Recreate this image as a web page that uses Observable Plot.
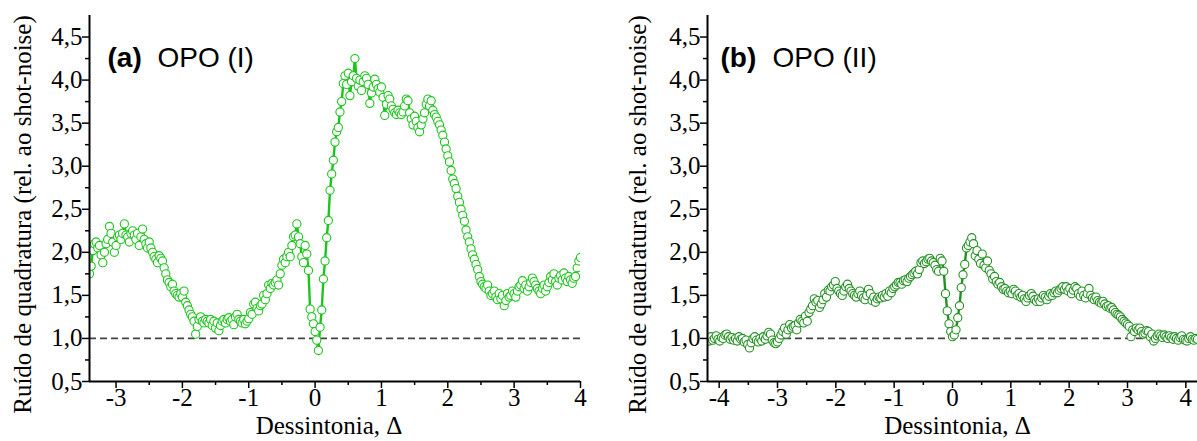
<!DOCTYPE html>
<html><head><meta charset="utf-8">
<script src="https://cdn.jsdelivr.net/npm/d3@7"></script>
<script src="https://cdn.jsdelivr.net/npm/@observablehq/plot@0.6"></script>
<style>
html,body{margin:0;padding:0;background:#fff;}
#row{display:flex;width:1197px;height:441px;overflow:hidden;}
#row svg{max-width:none;flex:none;}
</style></head><body><div id="row"></div>
<script>
// ---- shared labels / ticks ----
const yTitle = "Ruído de quadratura (rel. ao shot-noise)";
const xTitle = "Dessintonia, Δ";
const yDomain = [0.5, 4.75];
const yMajor = [0.5, 1.0, 1.5, 2.0, 2.5, 3.0, 3.5, 4.0, 4.5];
const yMinor = [0.75, 1.25, 1.75, 2.25, 2.75, 3.25, 3.75, 4.25];
const shotNoise = [1.0];

// ---- panel (a) OPO (I) ----
const leftTag = "(a)", leftName = "OPO (I)";
const leftXDomain = [-3.4, 4];
const leftXMajor = [-3, -2, -1, 0, 1, 2, 3, 4];
const leftXMinor = [-2.5, -1.5, -0.5, 0.5, 1.5, 2.5, 3.5];
const leftX0 = -3.4, leftStep = 0.025;   // detuning sweep
const leftY = [
  1.75, 1.84, 2.02, 2.10,
  2.12, 2.05, 2.08, 1.97,
  1.88, 2.00, 2.10, 2.15,
  2.30, 2.22, 2.12, 2.00,
  2.08, 2.18, 2.20, 2.15,
  2.22, 2.33, 2.20, 2.18,
  2.12, 2.22, 2.25, 2.20,
  2.15, 2.22, 2.08, 2.18,
  2.27, 2.15, 2.10, 2.05,
  2.12, 2.05, 2.00, 1.95,
  1.92, 1.88, 1.96, 1.93,
  1.90, 1.82, 1.75, 1.68,
  1.65, 1.60, 1.63, 1.55,
  1.52, 1.50, 1.48, 1.52,
  1.48, 1.55, 1.42, 1.38,
  1.33, 1.28, 1.25, 1.20,
  1.05, 1.14, 1.22, 1.25,
  1.20, 1.18, 1.22, 1.20,
  1.18, 1.22, 1.15, 1.20,
  1.12, 1.18, 1.09, 1.15,
  1.20, 1.22, 1.18, 1.22,
  1.24, 1.20, 1.22, 1.16,
  1.25, 1.28, 1.22, 1.20,
  1.18, 1.22, 1.17, 1.20,
  1.23, 1.30, 1.28, 1.40,
  1.42, 1.35, 1.32, 1.38,
  1.40, 1.50, 1.45, 1.52,
  1.62, 1.58, 1.64, 1.62,
  1.65, 1.68, 1.62, 1.75,
  1.85, 1.92, 1.88, 1.95,
  2.00, 1.95, 2.08, 2.18,
  2.20, 2.33, 2.18, 2.10,
  1.95, 1.88, 2.08, 1.98,
  1.79, 1.34, 1.25, 1.17,
  1.08, 0.98, 0.86, 1.13,
  1.33, 1.69, 1.90, 2.17,
  2.37, 2.72, 2.91, 3.07,
  3.28, 3.40, 3.45, 3.63,
  3.75, 3.96, 4.05, 3.95,
  4.08, 3.82, 3.98, 4.05,
  4.25, 4.02, 3.93, 4.00,
  3.88, 3.98, 4.05, 4.02,
  3.95, 3.73, 3.85, 3.92,
  4.01, 3.95, 3.90, 3.86,
  3.92, 3.80, 3.59, 3.72,
  3.82, 3.78, 3.70, 3.66,
  3.62, 3.60, 3.65, 3.62,
  3.60, 3.63, 3.70, 3.78,
  3.76, 3.62, 3.55, 3.48,
  3.58, 3.52, 3.45, 3.40,
  3.48, 3.55, 3.62, 3.72,
  3.78, 3.70, 3.76, 3.65,
  3.60, 3.57, 3.52, 3.48,
  3.42, 3.36, 3.28, 3.20,
  3.12, 3.05, 2.95, 2.85,
  2.80, 2.74, 2.65, 2.58,
  2.50, 2.43, 2.36, 2.26,
  2.18, 2.12, 2.04, 1.97,
  1.92, 1.86, 1.80, 1.72,
  1.66, 1.63, 1.60, 1.58,
  1.62, 1.55, 1.50, 1.52,
  1.55, 1.48, 1.45, 1.52,
  1.46, 1.50, 1.38, 1.44,
  1.52, 1.48, 1.50, 1.55,
  1.52, 1.48, 1.55, 1.60,
  1.62, 1.67, 1.58, 1.62,
  1.55, 1.60, 1.65, 1.70,
  1.66, 1.62, 1.58, 1.55,
  1.52, 1.58, 1.62, 1.55,
  1.60, 1.65, 1.72, 1.68,
  1.75, 1.66, 1.62, 1.70,
  1.73, 1.68, 1.76, 1.70,
  1.66, 1.72, 1.68, 1.64,
  1.70, 1.72, 1.82, 1.90,
  1.94
];

// ---- panel (b) OPO (II) ----
const rightTag = "(b)", rightName = "OPO (II)";
const rightXDomain = [-4.2, 4.2];
const rightXMajor = [-4, -3, -2, -1, 0, 1, 2, 3, 4];
const rightXMinor = [-3.5, -2.5, -1.5, -0.5, 0.5, 1.5, 2.5, 3.5];
const rightX0 = -4.2, rightStep = 0.03;
const rightY = [
  1.00, 0.97, 1.02, 0.98, 1.00, 1.03, 0.99, 0.97, 1.01, 1.00,
  1.04, 1.05, 1.02, 0.99, 1.01, 0.98, 1.00, 0.97, 1.02, 0.99,
  1.00, 0.96, 0.98, 0.93, 0.89, 0.95, 1.00, 1.02, 0.98, 0.96,
  1.00, 0.97, 1.02, 0.99, 1.03, 1.07, 1.05, 0.98, 0.95, 0.94,
  0.96, 1.00, 1.04, 1.08, 1.12, 1.05, 1.10, 1.16, 1.12, 1.14,
  1.15, 1.10, 1.18, 1.22, 1.20, 1.18, 1.26, 1.20, 1.30, 1.34,
  1.38, 1.46, 1.42, 1.44, 1.36, 1.40, 1.45, 1.52, 1.48, 1.56,
  1.55, 1.60, 1.62, 1.66, 1.58, 1.55, 1.52, 1.50, 1.55, 1.60,
  1.63, 1.58, 1.55, 1.52, 1.50, 1.48, 1.52, 1.55, 1.50, 1.47,
  1.45, 1.50, 1.57, 1.52, 1.44, 1.48, 1.42, 1.46, 1.48, 1.47,
  1.50, 1.48, 1.52, 1.49, 1.55, 1.53, 1.58, 1.60, 1.62, 1.65,
  1.65, 1.63, 1.67, 1.68, 1.66, 1.70, 1.72, 1.74, 1.76, 1.78,
  1.75, 1.80, 1.88, 1.90, 1.87, 1.89, 1.92, 1.93, 1.90, 1.88,
  1.85, 1.80, 1.78, 1.93, 1.90, 1.78, 1.52, 1.32, 1.17, 1.08,
  1.02, 1.04, 1.10, 1.24, 1.38, 1.59, 1.74, 1.86, 2.05, 2.08,
  2.12, 2.17, 2.10, 1.96, 2.02, 1.92, 1.87, 1.98, 1.85, 1.82,
  1.90, 1.79, 1.75, 1.69, 1.72, 1.66, 1.63, 1.65, 1.60, 1.57,
  1.58, 1.55, 1.53, 1.55, 1.52, 1.57, 1.55, 1.50, 1.52, 1.48,
  1.50, 1.46, 1.43, 1.47, 1.50, 1.52, 1.49, 1.45, 1.43, 1.46,
  1.43, 1.47, 1.50, 1.48, 1.45, 1.49, 1.52, 1.50, 1.53, 1.55,
  1.53, 1.56, 1.58, 1.60, 1.57, 1.60, 1.55, 1.58, 1.52, 1.56,
  1.60, 1.58, 1.52, 1.49, 1.55, 1.50, 1.47, 1.52, 1.58, 1.50,
  1.47, 1.45, 1.48, 1.44, 1.42, 1.41, 1.43, 1.40, 1.37, 1.38,
  1.35, 1.36, 1.33, 1.30, 1.28, 1.27, 1.25, 1.22, 1.20, 1.18,
  1.16, 1.14, 1.02, 1.10, 1.08, 1.12, 1.10, 1.12, 1.08, 1.05,
  1.06, 1.09, 1.08, 1.02, 1.05, 0.97, 1.00, 1.03, 1.05, 1.03,
  1.01, 1.04, 1.02, 1.00, 1.03, 1.01, 0.99, 1.02, 1.00, 0.98,
  1.01, 1.03, 0.99, 0.98, 0.97, 1.00, 1.02, 0.99, 0.98, 1.00,
  0.99
];

const serif = "'Liberation Serif', 'Times New Roman', serif";
const sans = "'Liberation Sans', Arial, sans-serif";
const fmtY = d => d.toFixed(1).replace(".", ",");

function panel(o) {
  const data = o.ys.map((v, i) => ({x: +(o.x0 + i * o.step).toFixed(4), y: v}));
  return Plot.plot({
    width: o.width, height: 441,
    marginLeft: o.marginLeft, marginRight: o.marginRight, marginTop: 15, marginBottom: 60,
    x: {domain: o.xDomain},
    y: {domain: yDomain},
    style: {fontFamily: serif, fontSize: "25px", color: "#000", background: "white", overflow: "visible"},
    marks: [
      Plot.ruleY(shotNoise, {stroke: "#444", strokeWidth: 1.7, strokeDasharray: "7,4"}),
      Plot.line(data, {x: "x", y: "y", stroke: o.color, strokeWidth: 2.4, clip: true}),
      Plot.dot(data, {x: "x", y: "y", r: 4.1, stroke: o.color, strokeWidth: 1.1, fill: "white", clip: true}),
      Plot.axisY({ticks: yMajor, tickSize: 7, tickPadding: 0, tickFormat: fmtY, label: null, strokeWidth: 1.5}),
      Plot.axisY({ticks: yMinor, tickSize: 4, tickFormat: () => null, label: null, strokeWidth: 1.5}),
      Plot.axisX({ticks: o.xMajor, tickSize: 7, tickPadding: 0, tickFormat: d => String(d), label: null, strokeWidth: 1.5}),
      Plot.axisX({ticks: o.xMinor, tickSize: 4, tickFormat: () => null, label: null, strokeWidth: 1.5}),
      Plot.ruleX([o.xDomain[0]], {stroke: "#000", strokeWidth: 2}),
      Plot.ruleY([yDomain[0]], {stroke: "#000", strokeWidth: 2}),
      Plot.text([yTitle], {text: d => d, frameAnchor: "left", textAnchor: "middle", rotate: -90, dx: o.yLabelDx, dy: 16, fontSize: 25, fontFamily: serif}),
      Plot.text([xTitle], {text: d => d, frameAnchor: "bottom", textAnchor: "middle", dx: o.xLabelDx, dy: 52, fontSize: 25, fontFamily: serif}),
      Plot.text([o.tag], {text: d => d, frameAnchor: "top-left", textAnchor: "start", dx: o.tagDx, dy: 32, fontSize: 28, fontWeight: "bold", fontFamily: sans}),
      Plot.text([o.name], {text: d => d, frameAnchor: "top-left", textAnchor: "start", dx: o.nameDx, dy: 32, fontSize: 28, fontFamily: sans})
    ]
  });
}

const row = document.getElementById("row");
row.append(panel({
  width: 600, marginLeft: 89, marginRight: 20,
  xDomain: leftXDomain, xMajor: leftXMajor, xMinor: leftXMinor,
  ys: leftY, x0: leftX0, step: leftStep, color: "#1ec41e",
  tag: leftTag, name: leftName, tagDx: 18, nameDx: 68, yLabelDx: -67, xLabelDx: -6
}));
row.append(panel({
  width: 597, marginLeft: 107, marginRight: 0,
  xDomain: rightXDomain, xMajor: rightXMajor, xMinor: rightXMinor,
  ys: rightY, x0: rightX0, step: rightStep, color: "#239123",
  tag: rightTag, name: rightName, tagDx: 13, nameDx: 65, yLabelDx: -70, xLabelDx: 5
}));
</script></body></html>
